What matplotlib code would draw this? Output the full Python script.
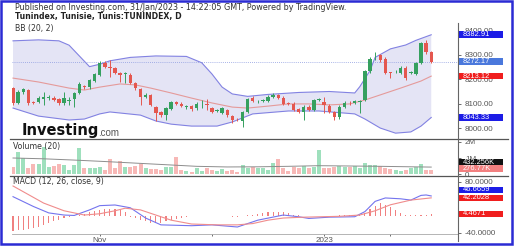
import numpy as np
import matplotlib
matplotlib.use('Agg')
import matplotlib.pyplot as plt
from matplotlib.lines import Line2D
from matplotlib.patches import Rectangle

plt.rcParams['font.family'] = ['Liberation Sans', 'DejaVu Sans']

W, H = 515, 247

# daily candles, index 0 = first visible bar
opens = [8163, 8104, 8148, 8156, 8106, 8107, 8120, 8124, 8124, 8118,
         8103, 8113, 8119, 8144, 8172, 8168, 8194, 8218, 8267, 8249,
         8247, 8226, 8222, 8218, 8185, 8160, 8128, 8136, 8087, 8066,
         8053, 8080, 8107, 8099, 8087, 8089, 8082, 8101, 8097, 8082,
         8070, 8062, 8074, 8049, 8035, 8029, 8066, 8124, 8109, 8113,
         8111, 8128, 8134, 8124, 8101, 8099, 8078, 8066, 8087, 8074,
         8117, 8107, 8091, 8066, 8045, 8087, 8103, 8103, 8107, 8115,
         8234, 8294, 8300, 8284, 8228, 8230, 8226, 8247, 8228, 8222,
         8267, 8349, 8312]
closes = [8101, 8149, 8160, 8102, 8102, 8123, 8128, 8126, 8115, 8102,
          8124, 8115, 8144, 8181, 8169, 8197, 8222, 8267, 8251, 8247,
          8226, 8218, 8224, 8185, 8164, 8128, 8136, 8095, 8062, 8053,
          8082, 8107, 8099, 8091, 8089, 8078, 8099, 8103, 8095, 8066,
          8072, 8082, 8053, 8033, 8033, 8066, 8119, 8111, 8111, 8115,
          8128, 8136, 8124, 8099, 8099, 8074, 8066, 8087, 8074, 8115,
          8119, 8095, 8066, 8045, 8087, 8103, 8101, 8111, 8109, 8234,
          8284, 8296, 8279, 8226, 8226, 8232, 8247, 8205, 8230, 8267,
          8349, 8312, 8272.17]
highs = [8170, 8156, 8166, 8160, 8112, 8130, 8148, 8135, 8130, 8124,
         8148, 8128, 8148, 8187, 8178, 8203, 8228, 8275, 8274, 8279,
         8252, 8230, 8230, 8224, 8190, 8165, 8142, 8140, 8092, 8072,
         8088, 8113, 8113, 8105, 8096, 8094, 8105, 8115, 8120, 8088,
         8078, 8088, 8080, 8054, 8040, 8072, 8125, 8130, 8117, 8121,
         8134, 8142, 8140, 8130, 8107, 8105, 8084, 8093, 8093, 8121,
         8125, 8128, 8097, 8072, 8093, 8109, 8109, 8117, 8115, 8240,
         8290, 8312, 8306, 8290, 8232, 8238, 8253, 8253, 8236, 8273,
         8355, 8360, 8318]
lows = [8095, 8097, 8141, 8096, 8097, 8101, 8095, 8115, 8109, 8095,
        8095, 8095, 8087, 8140, 8160, 8162, 8188, 8212, 8245, 8210,
        8220, 8189, 8185, 8180, 8158, 8095, 8122, 8090, 8029, 8047,
        8033, 8074, 8093, 8085, 8080, 8072, 8076, 8082, 8075, 8060,
        8064, 8056, 8047, 8020, 8027, 8004, 8060, 8105, 8103, 8107,
        8105, 8122, 8118, 8093, 8093, 8068, 8060, 8033, 8068, 8068,
        8111, 8062, 8060, 8033, 8039, 8081, 8095, 8097, 8062, 8109,
        8228, 8279, 8273, 8220, 8205, 8224, 8220, 8199, 8222, 8216,
        8261, 8306, 8266]

# volume in millions
volumes = [0.46, 1.40, 0.98, 0.35, 0.60, 0.60, 1.71, 0.46, 0.52, 0.60,
           0.56, 0.25, 0.56, 1.60, 0.35, 0.35, 0.40, 0.46, 0.25, 0.94,
           0.35, 0.81, 0.46, 0.46, 0.52, 0.60, 0.40, 0.31, 0.31, 0.25,
           0.46, 0.46, 1.08, 0.25, 0.19, 0.15, 0.40, 0.19, 0.40, 0.25,
           0.19, 0.31, 0.19, 0.25, 0.15, 0.56, 0.40, 0.46, 0.35, 0.35,
           0.25, 0.67, 0.92, 0.35, 0.19, 0.42, 0.40, 0.52, 0.40, 0.46,
           1.50, 0.35, 0.40, 0.46, 0.52, 0.46, 0.46, 0.50, 0.35, 0.67,
           0.56, 0.56, 0.50, 0.35, 0.31, 0.25, 0.19, 0.25, 0.40, 0.46,
           0.60, 0.25, 0.27677]
vol_ma_idx = [0, 6, 12, 18, 24, 30, 36, 42, 48, 54, 60, 66, 72, 78, 82]
vol_ma = [1.0, 0.95, 0.87, 0.78, 0.68, 0.58, 0.48, 0.44, 0.45, 0.48,
          0.52, 0.50, 0.48, 0.45, 0.432256]

# bollinger bands (20, 2), sampled along the curves
bb_up_idx = [0, 5, 9, 11, 13, 15, 17, 19, 23, 28, 34, 37, 39, 41, 43, 46,
             50, 56, 62, 67, 68, 70, 71, 74, 77, 79, 82]
bb_up = [8358, 8362, 8358, 8340, 8296, 8252, 8262, 8276, 8290, 8296, 8294,
         8268, 8222, 8168, 8140, 8130, 8138, 8146, 8150, 8144, 8170, 8236,
         8290, 8325, 8341, 8360, 8382.91]
bb_lo_idx = [0, 5, 11, 14, 17, 19, 25, 28, 31, 35, 40, 43, 47, 54, 60, 67,
             69, 72, 75, 78, 80, 82]
bb_lo = [8082, 8049, 8033, 8037, 8058, 8066, 8053, 8029, 8016, 8008, 8008,
         8025, 8058, 8070, 8070, 8058, 8037, 8000, 7979, 7984, 8008, 8043.33]
bb_mid_idx = [0, 5, 11, 14, 17, 21, 24, 27, 31, 35, 39, 43, 46, 50, 54, 58,
              62, 66, 69, 72, 76, 80, 82]
bb_mid = [8205, 8189, 8164, 8156, 8168, 8181, 8177, 8164, 8144, 8123, 8103,
          8086, 8082, 8090, 8099, 8099, 8095, 8099, 8115, 8136, 8164, 8193,
          8213.12]

# macd (12, 26, close, 9)
macd_idx = [0, 4, 7, 10, 12, 15, 17, 20, 23, 26, 29, 35, 39, 44, 46, 48,
            53, 56, 58, 62, 67, 69, 70, 71, 73, 76, 78, 80, 81, 82]
macd = [45, 22, 7, 2, 1, 14, 24, 25.5, 19, -5, -21, -23, -21, -26, -18, -10,
        2, -2, -6, -3, -2, 10, 22, 34, 42, 40, 37, 48, 49, 46.6659]
sig_idx = [0, 3, 6, 10, 14, 17, 20, 22, 25, 28, 31, 35, 40, 44, 47, 50, 53,
           57, 64, 68, 71, 74, 78, 82]
sig = [70, 50, 30, 12, 2, 5, 12, 18, 14, 2, -10, -19, -21, -21, -18, -10, -5,
       -3, -1, 2, 12, 26, 37, 42.2028]
hist = [-35, -34, -33, -31, -28, -25, -21, -17, -13, -9, -6, -3, -1,
        2, 5, 8, 11, 14, 16, 17, 16, 13, 8,
        -2, -6, -10, -13, -16, -17, -16, -13, -10, -7, -4, -2, -1, -1,
        0.6, 0.6, -0.6, -1, -1, -1, -2, -2, 0.6, 2,
        3, 5, 7, 9, 10, 10, 8, 6, 3, 1,
        0.6, -1, -1, 0.6, -1, -1, 0.6, 1, 2, 2, 3, 3,
        6, 15, 24, 30, 26, 20, 13, 7, 2, 1, 1, 3, 1, 4.4671]

x_tick_idx = [17, 39, 61, 74]
x_tick_lab = ['Nov', '', '2023', '']
price_ticks = [8000, 8100, 8200, 8300, 8400]
vol_ticks = [0, 1, 2]
vol_tick_lab = ['0', '1M', '2M']
macd_ticks = [-40, 0, 40, 80]
macd_tick_lab = ['-40.0000', '', '', '80.0000']  # 0 and 40 sit under the value boxes

GREEN = '#35a05f'
RED = '#e4574f'
TXT = '#555555'
HEAD = 'DejaVu Sans'


def fx(x):
    return x / W


def fy(y):
    return 1 - y / H


def tag(fig, ax, value, text, bg, fg='white', dy=0):
    """coloured value box on the right scale"""
    yd = ax.transData.transform((0, value))[1] / fig.bbox.height - dy / H
    fig.add_artist(Rectangle((fx(459), yd - 3.3 / H), 44 / W, 6.6 / H,
                             transform=fig.transFigure, facecolor=bg,
                             edgecolor='none', zorder=5))
    fig.text(fx(463), yd, text, fontsize=5.4, color=fg, va='center',
             ha='left', zorder=6)


fig = plt.figure(figsize=(W / 100, H / 100), dpi=100)
fig.patch.set_facecolor('white')

ax_p = fig.add_axes([fx(12), fy(139), 446 / W, 133 / H])
ax_v = fig.add_axes([fx(12), fy(175), 446 / W, 35 / H])
ax_m = fig.add_axes([fx(12), fy(234), 446 / W, 58 / H])

idx = np.arange(len(closes))
o = np.array(opens)
c = np.array(closes)
up = c >= o
cols = np.where(up, GREEN, RED)

# price pane
ax_p.fill(np.r_[bb_up_idx, bb_lo_idx[::-1]], np.r_[bb_up, bb_lo[::-1]],
          color='#e4e4f5', lw=0, zorder=1)
ax_p.plot(bb_up_idx, bb_up, color='#8282e2', lw=0.8, zorder=2)
ax_p.plot(bb_lo_idx, bb_lo, color='#8282e2', lw=0.8, zorder=2)
ax_p.plot(bb_mid_idx, bb_mid, color='#e59a9a', lw=0.8, zorder=2)
ax_p.axhline(closes[-1], color='#8c9be0', lw=0.6, ls=(0, (1, 1.5)), zorder=2)
ax_p.vlines(idx, lows, highs, colors=cols, lw=0.7, zorder=3)
body_lo = np.minimum(o, c)
body_h = np.maximum(np.abs(c - o), 1.5)
ax_p.bar(idx, body_h, bottom=body_lo, width=0.66, color=cols, zorder=4)
ax_p.set_ylim(7955, 8501)
ax_p.set_yticks(price_ticks)
ax_p.set_yticklabels(['%.2f' % t for t in price_ticks])

# volume pane
vcols = np.where(up, '#9fe0bd', '#f7b8b6')
ax_v.bar(idx, volumes, width=0.78, color=vcols, zorder=2)
ax_v.plot(vol_ma_idx, vol_ma, color='#8d8d8d', lw=0.7, zorder=3)
ax_v.set_ylim(-0.0625, 2.125)
ax_v.set_yticks(vol_ticks)
ax_v.set_yticklabels(vol_tick_lab)

# macd pane
ax_m.bar(idx, hist, width=0.22, color='#f08080', zorder=2)
ax_m.plot(macd_idx, macd, color='#7474ee', lw=0.8, zorder=3)
ax_m.plot(sig_idx, sig, color='#f08c8c', lw=0.8, zorder=3)
ax_m.set_ylim(-42.4, 93.4)
ax_m.set_yticks(macd_ticks)
ax_m.set_yticklabels(macd_tick_lab)

for ax in (ax_p, ax_v, ax_m):
    ax.set_xlim(-0.2, 87.25)
    ax.set_facecolor('none')
    for s in ax.spines.values():
        s.set_visible(False)
    ax.yaxis.tick_right()
    ax.tick_params(axis='y', length=2.5, width=0.6, colors=TXT,
                   labelsize=5.8, pad=2.5)
    ax.tick_params(axis='x', bottom=False, labelbottom=False)

ax_m.spines['bottom'].set_visible(True)
ax_m.spines['bottom'].set_color('#a8a8a8')
ax_m.spines['bottom'].set_linewidth(0.6)
ax_m.set_xticks(x_tick_idx)
ax_m.set_xticklabels(x_tick_lab)
ax_m.tick_params(axis='x', bottom=True, labelbottom=True, length=1.5,
                 width=0.6, colors=TXT, labelsize=5.8, pad=1)

# value boxes on the scale
tag(fig, ax_p, 8382.91, '8382.91', '#1c1ce6')
tag(fig, ax_p, closes[-1], '8272.17', '#4a78dc')
tag(fig, ax_p, 8213.12, '8213.12', '#f01e1e')
tag(fig, ax_p, 8043.33, '8043.33', '#1c1ce6')
tag(fig, ax_v, vol_ma[-1], '432.256K', '#111111', dy=-4.8)
tag(fig, ax_v, volumes[-1], '276.77K', '#f28080', dy=-1.0)
tag(fig, ax_m, macd[-1], '46.6659', '#1c1ce6', dy=-6)
tag(fig, ax_m, sig[-1], '42.2028', '#f01e1e')
tag(fig, ax_m, hist[-1], '4.4671', '#f01e1e')

# pane separators, right scale line, frame
for yy in (139.5, 175.7):
    fig.add_artist(Line2D([fx(10), fx(508)], [fy(yy), fy(yy)],
                          color='#555555', lw=0.9))
fig.add_artist(Line2D([fx(458), fx(458)], [fy(23), fy(241)],
                      color='#666666', lw=0.8))
fig.add_artist(Rectangle((fx(1.3), fy(243.7)), 510.4 / W, 242.7 / H,
                         transform=fig.transFigure, fill=False,
                         edgecolor='#2b2bd4', lw=1.8))

# texts
fig.text(fx(15), fy(7.5), 'Published on Investing.com, 31/Jan/2023 - 14:22:05 GMT, '
         'Powered by TradingView.', fontsize=5.8, family=HEAD,
         color='#333333', va='center')
fig.text(fx(15), fy(17), 'Tunindex, Tunisie, Tunis:TUNINDEX, D', fontsize=5.6,
         fontweight='bold', family=HEAD, color='#222222', va='center')
fig.text(fx(15), fy(29), 'BB (20, 2)', fontsize=5.6, family=HEAD,
         color='#333333', va='center')
fig.text(fx(13), fy(146.7), 'Volume (20)', fontsize=5.6, family=HEAD,
         color='#333333', va='center')
fig.text(fx(13), fy(181.7), 'MACD (12, 26, close, 9)', fontsize=5.6,
         family=HEAD, color='#333333', va='center')
fig.text(fx(22), fy(131), 'Investing', fontsize=10.5, fontweight='heavy',
         family=HEAD, color='#111111', va='center')
fig.text(fx(98), fy(132.5), '.com', fontsize=7, color='#555555', va='center')

fig.savefig('out.png', dpi=100)
